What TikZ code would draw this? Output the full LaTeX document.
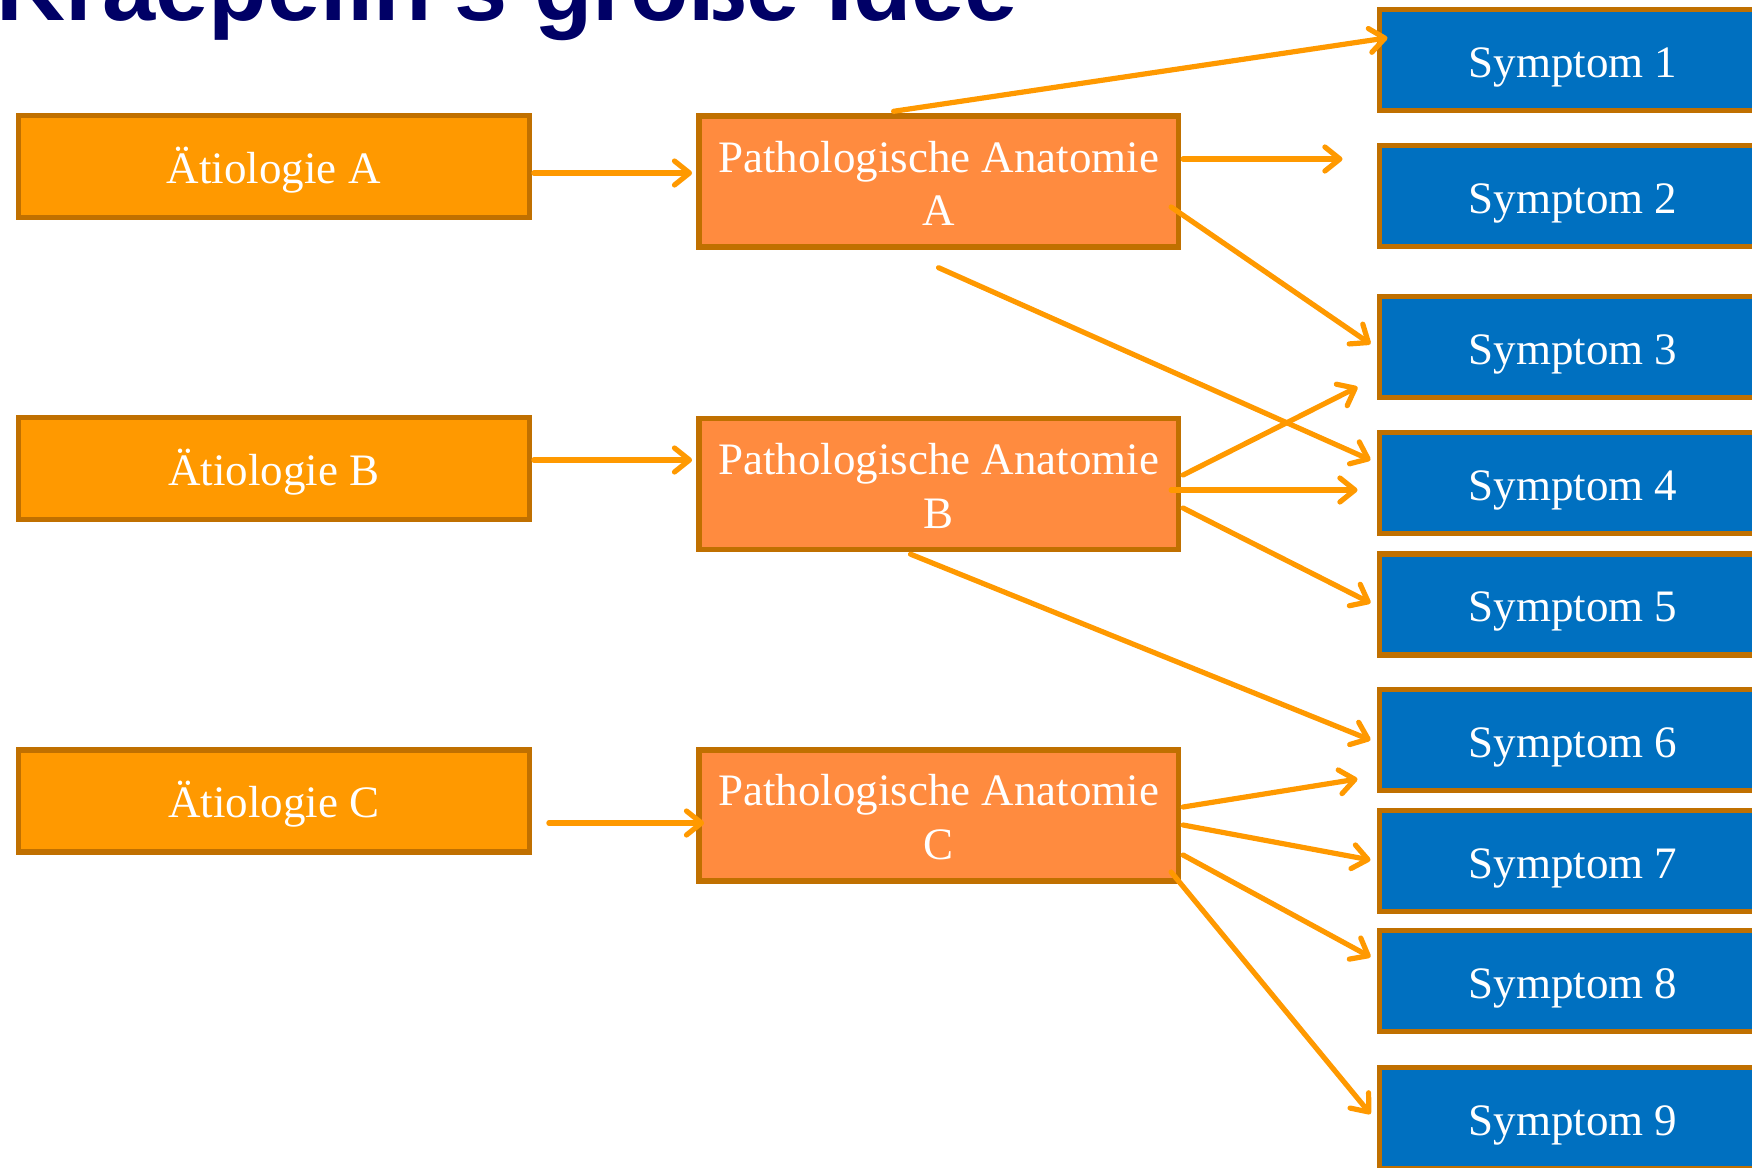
\documentclass[tikz,border=0pt]{standalone}
\usepackage{fontspec}
\setmainfont{Liberation Serif}
\newfontfamily\titlefont{Liberation Sans}
\usetikzlibrary{arrows.meta,calc}
\definecolor{aecol}{HTML}{FF9900}
\definecolor{pacol}{HTML}{FF8B3F}
\definecolor{sycol}{HTML}{0070C0}
\definecolor{bordcol}{HTML}{C07000}
\definecolor{arrcol}{HTML}{FF9900}
\definecolor{titlecol}{HTML}{000066}
\tikzset{
  boxbase/.style={draw=bordcol, line width=2.7pt, inner sep=0pt, text=white,
    font=\fontsize{22.5pt}{26.8pt}\selectfont, align=center},
  aebox/.style={boxbase, fill=aecol, minimum width=255.5pt, minimum height=51pt,
    text height=20pt, text depth=3.4pt},
  pabox/.style={boxbase, fill=pacol, minimum width=239.8pt, minimum height=65.5pt,
    text height=44.2pt},
  sybox/.style={boxbase, fill=sycol, minimum width=193.8pt, minimum height=50.5pt,
    text height=20pt, text depth=2.8pt},
  arr/.style={draw=arrcol, line width=2.6pt, line cap=round,
    -{Straight Barb[length=7.5pt,width=12pt,line cap=round,line join=round]}}
}
\begin{document}
\begin{tikzpicture}[x=0.5pt,y=-0.5pt]
\useasboundingbox (0,0) rectangle (1752,1168);
\clip (0,0) rectangle (1752,1168);
% title
\node[anchor=base west, inner sep=0pt, text=titlecol,
  font=\titlefont\bfseries\fontsize{47.8pt}{50pt}\selectfont] (title) at (-4,20) {Kraepelin's große Idee};
% etiology boxes
\node[aebox] (aeA) at (273.7,166.5) {Ätiologie A};
\node[aebox] (aeB) at (273.7,468.7) {Ätiologie B};
\node[aebox] (aeC) at (273.7,801) {Ätiologie C};
% pathological anatomy boxes
\node[pabox] (paA) at (938.6,181.5) {Pathologische Anatomie\\A};
\node[pabox] (paB) at (938.6,484) {Pathologische Anatomie\\B};
\node[pabox] (paC) at (938.6,815.6) {Pathologische Anatomie\\C};
% symptom boxes
\node[sybox] (s1) at (1573,59.8) {Symptom 1};
\node[sybox] (s2) at (1573,196) {Symptom 2};
\node[sybox] (s3) at (1573,347) {Symptom 3};
\node[sybox] (s4) at (1573,483) {Symptom 4};
\node[sybox] (s5) at (1573,604.5) {Symptom 5};
\node[sybox] (s6) at (1573,740) {Symptom 6};
\node[sybox] (s7) at (1573,861) {Symptom 7};
\node[sybox] (s8) at (1573,981) {Symptom 8};
\node[sybox] (s9) at (1573,1118) {Symptom 9};
% arrows
\draw[arr] ($(aeA.east)+(2,6.5)$) -- ($(paA.west)+(-4,-8.5)$);
\draw[arr] ($(aeB.east)+(2,-8.7)$) -- ($(paB.west)+(-4,-24)$);
\draw[arr] ($(aeC.east)+(17,22)$) -- ($(paC.west)+(8,7.4)$);
\draw[arr] ($(paA.north)+(-45,-2)$) -- ($(s1.west)+(11,-22)$);
\draw[arr] ($(paA.east)+(2,-22.5)$) -- ($(s2.west)+(-34,-37)$);
\draw[arr] ($(paA.east)+(-10,25.5)$) -- ($(s3.west)+(-6,-3)$);
\draw[arr] ($(paA.south)+(0,18)$) -- ($(s4.west)+(-6,-23)$);
\draw[arr] ($(paB.east)+(2,-9)$) -- ($(s3.west)+(-19,40)$);
\draw[arr] ($(paB.east)+(-10,6)$) -- ($(s4.west)+(-19,7)$);
\draw[arr] ($(paB.east)+(2,24)$) -- ($(s5.west)+(-6,-1.5)$);
\draw[arr] ($(paB.south)+(-28,2)$) -- ($(s6.west)+(-6,0)$);
\draw[arr] ($(paC.east)+(2,-8.6)$) -- ($(s6.west)+(-19,39)$);
\draw[arr] ($(paC.east)+(2,9.4)$) -- ($(s7.west)+(-6,-1)$);
\draw[arr] ($(paC.east)+(2,39.4)$) -- ($(s8.west)+(-6,-24)$);
\draw[arr] ($(paC.east)+(-10,56.4)$) -- ($(s9.west)+(-6,-4)$);
\end{tikzpicture}
\end{document}
